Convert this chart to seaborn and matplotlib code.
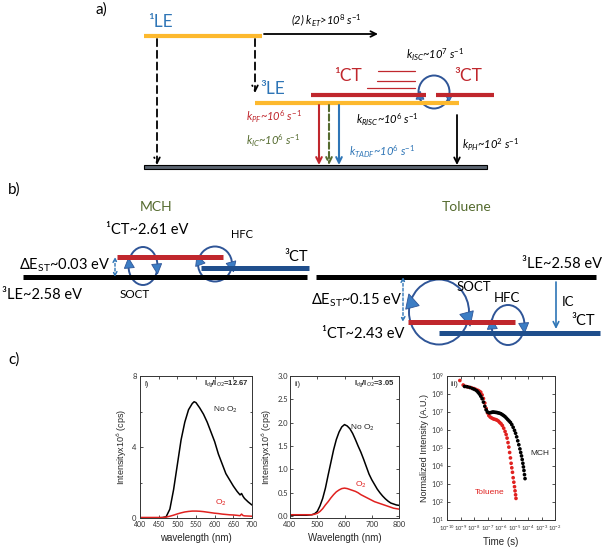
import numpy as np
import pandas as pd
import matplotlib
matplotlib.use("Agg")
import matplotlib.pyplot as plt
import seaborn as sns
from matplotlib.patches import Ellipse, Polygon, Rectangle

sns.set_style("ticks")
plt.rcParams["font.family"] = ["Lato", "DejaVu Sans"]
plt.rcParams["mathtext.fontset"] = "custom"
plt.rcParams["mathtext.rm"] = "Lato"
plt.rcParams["mathtext.it"] = "Lato:italic"
plt.rcParams["mathtext.bf"] = "Lato:bold"

# ---------------- data (panel c) ----------------
wl_i = [400, 420, 440, 450, 460, 470, 480, 490, 500, 510, 520, 530, 540, 545, 550, 560, 570,
        580, 590, 600, 610, 620, 630, 640, 650, 660, 668, 672, 676, 680, 690, 700]
noO2_i = [0, 0, 0, 0.01, 0.02, 0.07, 0.5, 1.6, 3.0, 4.4, 5.4, 6.1, 6.45, 6.55, 6.5, 6.2, 5.85,
          5.4, 4.85, 4.3, 3.6, 3.05, 2.5, 2.15, 1.8, 1.5, 1.3, 1.38, 1.22, 1.1, 0.9, 0.73]
O2_i = [0.03, 0.03, 0.03, 0.03, 0.03, 0.05, 0.1, 0.16, 0.23, 0.29, 0.34, 0.37, 0.39, 0.39, 0.39, 0.38, 0.36,
        0.33, 0.3, 0.27, 0.25, 0.22, 0.2, 0.18, 0.17, 0.15, 0.13, 0.22, 0.14, 0.12, 0.11, 0.1]

wl_ii = [400, 420, 440, 460, 480, 490, 500, 510, 520, 530, 540, 550, 560, 570, 580, 590, 600,
         610, 620, 630, 640, 650, 660, 670, 680, 690, 700, 710, 720, 730, 740, 750, 760, 770,
         780, 790, 800]
noO2_ii = [0.02, 0.02, 0.02, 0.02, 0.03, 0.05, 0.1, 0.22, 0.38, 0.6, 0.88, 1.15, 1.42, 1.64, 1.8, 1.91, 1.96,
           1.93, 1.87, 1.77, 1.64, 1.5, 1.37, 1.22, 1.06, 0.9, 0.78, 0.68, 0.58, 0.5, 0.43, 0.37, 0.32, 0.28,
           0.26, 0.24, 0.23]
O2_ii = [0.03, 0.03, 0.03, 0.03, 0.03, 0.04, 0.06, 0.1, 0.16, 0.24, 0.31, 0.39, 0.46, 0.52, 0.56, 0.59, 0.6,
         0.59, 0.57, 0.55, 0.53, 0.5, 0.46, 0.43, 0.4, 0.37, 0.34, 0.31, 0.29, 0.27, 0.25, 0.23, 0.21, 0.19,
         0.17, 0.16, 0.15]

logt_mch = [-8.7, -8.5, -8.3, -8.1, -7.95, -7.8, -7.7, -7.6, -7.5, -7.4, -7.3, -7.2, -7.1, -7.0, -6.9,
            -6.8, -6.7, -6.6, -6.5, -6.4, -6.3, -6.2, -6.1, -6.0, -5.9, -5.8, -5.7, -5.6, -5.5, -5.4,
            -5.3, -5.2, -5.1, -5.0, -4.92, -4.84, -4.76, -4.68, -4.6, -4.54, -4.48, -4.43, -4.38, -4.34,
            -4.3, -4.26, -4.22]
logI_mch = [8.42, 8.4, 8.36, 8.3, 8.25, 8.18, 8.1, 8.0, 7.88, 7.74, 7.55, 7.32, 7.12, 7.0, 6.96,
            6.96, 6.98, 7.0, 6.99, 6.98, 6.97, 6.95, 6.93, 6.9, 6.85, 6.8, 6.74, 6.66, 6.58, 6.5,
            6.42, 6.3, 6.15, 5.98, 5.82, 5.62, 5.4, 5.18, 4.95, 4.75, 4.56, 4.36, 4.15, 3.95,
            3.75, 3.52, 3.3]
logt_tol = [-9.05, -8.8, -8.6, -8.4, -8.2, -8.0, -7.85, -7.7, -7.6, -7.5, -7.4, -7.3, -7.2, -7.1, -7.0,
            -6.9, -6.8, -6.7, -6.6, -6.5, -6.4, -6.3, -6.2, -6.1, -6.0, -5.9, -5.8, -5.7, -5.62, -5.55,
            -5.48, -5.42, -5.36, -5.3, -5.25, -5.2, -5.15, -5.1, -5.05, -5.0, -4.96, -4.92, -4.89]
logI_tol = [8.75, 8.5, 8.42, 8.38, 8.35, 8.3, 8.25, 8.2, 8.15, 8.1, 7.95, 7.75, 7.5, 7.2, 6.95,
            6.8, 6.72, 6.67, 6.63, 6.6, 6.58, 6.55, 6.5, 6.42, 6.35, 6.25, 6.1, 5.92, 5.75, 5.55,
            5.3, 5.05, 4.75, 4.45, 4.15, 3.9, 3.65, 3.35, 3.1, 2.85, 2.62, 2.4, 2.2]

BLUE_T = "#2E75B6"
ORANGE = "#FDB92E"
RED = "#C0272D"
OLIVE = "#556B2F"
NAVY = "#1F4E8C"
ELL = "#2F5597"
TRI = "#3C7DC4"

W, H = 603, 548
fig = plt.figure(figsize=(W / 100, H / 100), dpi=100)
ov = fig.add_axes([0, 0, 1, 1])
ov.set_xlim(0, W)
ov.set_ylim(H, 0)
ov.axis("off")


def level(x0, x1, y, c, lw):
    ov.plot([x0, x1], [y, y], color=c, lw=lw, solid_capstyle="butt")


def arrow(x0, y0, x1, y1, c, ls="-", lw=1.3):
    ov.annotate("", xy=(x1, y1), xytext=(x0, y0),
                arrowprops=dict(arrowstyle="->", color=c, lw=lw, linestyle=ls,
                                shrinkA=0, shrinkB=0, mutation_scale=10))


def darrow(x, y0, y1):
    ov.annotate("", xy=(x, y1), xytext=(x, y0),
                arrowprops=dict(arrowstyle="<->", color=BLUE_T, lw=1.0, linestyle=(0, (2, 1.5)),
                                shrinkA=0, shrinkB=0, mutation_scale=7))


def ell(cx, cy, w, h):
    ov.add_patch(Ellipse((cx, cy), w, h, fill=False, ec=ELL, lw=1.4))


def tri(x, y, ang, L):
    a = np.deg2rad(ang)
    d = np.array([np.cos(a), -np.sin(a)])
    p = np.array([-d[1], d[0]])
    c = np.array([x, y])
    pts = [c + d * L * 0.6, c - d * L * 0.4 + p * L * 0.5, c - d * L * 0.4 - p * L * 0.5]
    ov.add_patch(Polygon(pts, closed=True, fc=TRI, ec=ELL, lw=0.6))


def txt(x, y, s, size=9, c="black", ha="left", style="normal"):
    ov.text(x, y, s, fontsize=size, color=c, ha=ha, va="center", style=style)


def rate(sub, exp):
    return r"$k_{" + sub + r"}$~10$^{\mathit{" + exp + r"}}$ s$^{\mathit{-1}}$"


# ---------------- panel a ----------------
txt(101, 10, "a)", 11, ha="center")
txt(148, 22, "¹LE", 12.5, BLUE_T)
level(144, 262, 36, ORANGE, 3)
arrow(264, 34, 378, 34, "black", lw=1.3)
txt(291, 20, r"(2) $k_{ET}$>10$^{\mathit{8}}$ s$^{\mathit{-1}}$", 8, style="italic")
arrow(157, 39, 157, 165, "black", ls=(0, (4, 2.5)), lw=1.3)
arrow(255, 39, 255, 93, "black", ls=(0, (4, 2.5)), lw=1.3)
txt(260, 89, "³LE", 12.5, BLUE_T)
level(255, 459, 103, ORANGE, 3)
txt(334, 76, "¹CT", 12.5, RED)
txt(454, 76, "³CT", 12.5, RED)
level(311, 426, 95, RED, 3)
level(436, 494, 95, RED, 3)
for (x0, y) in [(378, 71), (377, 81), (367, 88)]:
    ov.plot([x0, 415], [y, y], color=RED, lw=0.9)
txt(406, 55, rate("ISC", "7"), 8, style="italic")
ell(434, 92, 31, 33)
tri(420, 96, 90, 8)
tri(449, 97, -90, 8)
ov.add_patch(Rectangle((144, 165), 343, 4, fc="#5A6470", ec="black", lw=0.8))
arrow(319, 105, 319, 165, RED, lw=1.5)
arrow(329, 105, 329, 165, OLIVE, ls=(0, (3, 1.5)), lw=1.5)
arrow(339, 105, 339, 165, BLUE_T, lw=1.5)
arrow(457, 115, 457, 165, "black", lw=1.3)
txt(246, 117, rate("PF", "6"), 8, RED, style="italic")
txt(246, 141, rate("IC", "6"), 8, OLIVE, style="italic")
txt(349, 152, rate("TADF", "6"), 8, BLUE_T, style="italic")
txt(356, 120, rate("RISC", "6"), 8, style="italic")
txt(462, 145, rate("PH", "2"), 8, style="italic")

# ---------------- panel b ----------------
txt(8, 190, "b)", 11)
txt(156, 207, "MCH", 10, OLIVE, ha="center")
txt(467, 207, "Toluene", 10, OLIVE, ha="center")
txt(106, 230, "¹CT~2.61 eV", 10.5)
txt(231, 235, "HFC", 8)
level(117, 223, 257, RED, 3.6)
level(201, 309, 268, NAVY, 3.6)
level(23, 307, 277, "black", 3.6)
txt(284, 257, "³CT", 10.5)
txt(19, 265, r"$\Delta$E$_{\mathrm{ST}}$~0.03 eV", 10.5)
darrow(115, 257, 277)
txt(2, 295, "³LE~2.58 eV", 10.5)
ell(143, 266, 29, 38)
tri(129, 264, 95, 10)
tri(157, 268, -85, 10)
txt(120, 295, "SOCT", 8.5)
ell(215, 264, 34, 35)
tri(199, 261, 110, 10)
tri(232, 266, -75, 10)

level(316, 596, 277, "black", 3.6)
txt(602, 264, "³LE~2.58 eV", 10.5, ha="right")
txt(311, 300, r"$\Delta$E$_{\mathrm{ST}}$~0.15 eV", 10.5)
darrow(403, 277, 322)
level(408, 515, 322, RED, 3.6)
level(439, 600, 333, NAVY, 3.6)
txt(322, 334, "¹CT~2.43 eV", 10.5)
txt(571, 321, "³CT", 10.5)
ell(439, 312, 60, 65)
tri(411, 302, 105, 14)
tri(468, 318, -75, 14)
txt(457, 287, "SOCT", 9.5)
ell(508, 325, 33, 40)
tri(492, 325, 95, 10)
tri(524, 327, -85, 10)
txt(494, 298, "HFC", 9.5)
arrow(556, 282, 556, 329, BLUE_T, lw=1.2)
txt(562, 302, "IC", 9.5)
txt(8, 360, "c)", 11)

# ---------------- panel c ----------------
def box_axes(l, r, top, bot):
    ax = fig.add_axes([l / W, 1 - bot / H, (r - l) / W, (bot - top) / H])
    ax.tick_params(direction="in", which="both", top=True, right=True, labelsize=5.5,
                   length=2.5, width=0.6, pad=1.5, colors="#333333")
    ax.tick_params(which="minor", length=1.5)
    for s in ax.spines.values():
        s.set_linewidth(0.7)
        s.set_color("#333333")
    return ax

LAB = ["Liberation Sans", "DejaVu Sans"]

ax1 = box_axes(140, 252, 376, 518)
d1 = pd.DataFrame({"wl": wl_i, "No O2": noO2_i, "O2": O2_i})
sns.lineplot(data=d1, x="wl", y="No O2", ax=ax1, color="black", lw=1.1)
sns.lineplot(data=d1, x="wl", y="O2", ax=ax1, color="#E0211F", lw=1.1)
ax1.set_xlim(400, 700)
ax1.set_ylim(0, 8)
ax1.set_xticks([400, 450, 500, 550, 600, 650, 700])
ax1.set_yticks([0, 4, 8])
ax1.set_yticks([2, 6], minor=True)
ax1.tick_params(axis="x", labelsize=5, pad=2.5)
ax1.tick_params(axis="y", pad=2.5)
ax1.set_xlabel("wavelength (nm)", fontsize=7, family=LAB, labelpad=3)
ax1.set_ylabel(r"Intensityx10$^6$ (cps)", fontsize=6.5, family=LAB, labelpad=2)
ax1.text(0.04, 0.93, "i)", transform=ax1.transAxes, fontsize=5.5, family=LAB)
ax1.text(0.97, 0.93, r"I$_{dg}$/I$_{O2}$=12.67", transform=ax1.transAxes, fontsize=5.5,
         ha="right", weight="bold", family=LAB)
ax1.text(595, 6.0, r"No O$_2$", fontsize=6, family=LAB)
ax1.text(600, 0.75, r"O$_2$", fontsize=6, color="#E0211F", family=LAB)

ax2 = box_axes(290, 399, 376, 518)
d2 = pd.DataFrame({"wl": wl_ii, "No O2": noO2_ii, "O2": O2_ii})
sns.lineplot(data=d2, x="wl", y="No O2", ax=ax2, color="black", lw=1.1)
sns.lineplot(data=d2, x="wl", y="O2", ax=ax2, color="#E0211F", lw=1.1)
ax2.set_xlim(400, 800)
ax2.set_ylim(-0.04, 3.0)
ax2.set_xticks([400, 500, 600, 700, 800])
ax2.set_yticks([0, 0.5, 1.0, 1.5, 2.0, 2.5, 3.0])
ax2.set_yticklabels(["0.0", "0.5", "1.0", "1.5", "2.0", "2.5", "3.0"])
ax2.tick_params(axis="x", pad=2.5)
ax2.set_xlabel("Wavelength (nm)", fontsize=7, family=LAB, labelpad=3)
ax2.set_ylabel(r"Intensityx10$^6$ (cps)", fontsize=6.5, family=LAB, labelpad=2)
ax2.text(0.04, 0.93, "ii)", transform=ax2.transAxes, fontsize=5.5, family=LAB)
ax2.text(0.96, 0.93, r"I$_{dg}$/I$_{O2}$=3.05", transform=ax2.transAxes, fontsize=5.5,
         ha="right", weight="bold", family=LAB)
ax2.text(620, 1.85, r"No O$_2$", fontsize=6, family=LAB)
ax2.text(640, 0.62, r"O$_2$", fontsize=6, color="#E0211F", family=LAB)

ax3 = box_axes(447, 555, 376, 520)
d3 = pd.DataFrame({"t": 10 ** np.array(logt_mch), "I": 10 ** np.array(logI_mch)})
d4 = pd.DataFrame({"t": 10 ** np.array(logt_tol), "I": 10 ** np.array(logI_tol)})
ax3.set_xscale("log")
ax3.set_yscale("log")
sns.scatterplot(data=d4, x="t", y="I", ax=ax3, color="#E0211F", s=7, edgecolor="none")
sns.scatterplot(data=d3, x="t", y="I", ax=ax3, color="black", s=7, edgecolor="none")
ax3.set_xlim(1e-10, 1e-2)
ax3.set_ylim(1e1, 1e9)
ax3.set_xticks([10.0 ** k for k in range(-10, -1)])
ax3.set_yticks([10.0 ** k for k in range(1, 10)])
ax3.minorticks_off()
ax3.tick_params(axis="y", labelsize=5, pad=2.5)
ax3.tick_params(axis="x", labelsize=4.2, pad=2.5)
ax3.set_xlabel("Time (s)", fontsize=7, family=LAB, labelpad=3)
ax3.set_ylabel("Normalized Intensity (A.U.)", fontsize=6.5, family=LAB, labelpad=1)
ax3.text(0.03, 0.93, "iii)", transform=ax3.transAxes, fontsize=5.5, family=LAB)
ax3.text(1.5e-4, 10 ** 4.6, "MCH", fontsize=6, family=LAB)
ax3.text(1.2e-8, 10 ** 2.45, "Toluene", fontsize=6, color="#E0211F", family=LAB)

fig.savefig("out.png", dpi=100)
